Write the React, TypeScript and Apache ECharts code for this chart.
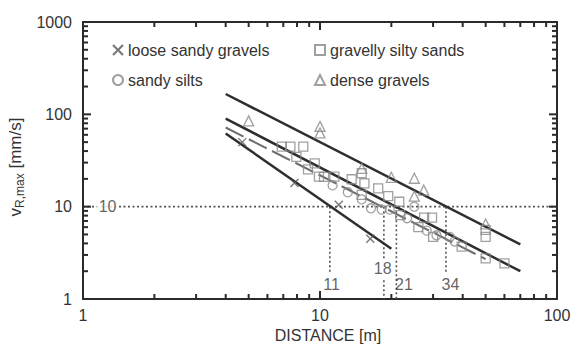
import React, { useEffect, useRef } from 'react';
import * as echarts from 'echarts';

// ---- data ----
const looseX = [4.7, 7.8, 12, 16.3];
const looseY = [50, 18, 10.5, 4.5];

const siltX = [11.3, 13.1, 15, 16.4, 18.2, 19.7, 23.3, 25, 28.2, 31, 35.3, 37];
const siltY = [17, 14.3, 12, 9.6, 9.3, 9.3, 7.5, 10, 5.5, 4.9, 4.7, 4.2];

const sandX = [6.9, 7.5, 7.95, 8.5, 8.9, 9.5, 9.9, 10.4, 11.5, 13.6, 15.4, 15, 15, 17.6, 19.4, 21.6, 21.8, 27.5, 29.7, 26, 30, 39.6, 50, 50, 50, 60];
const sandY = [44.6, 44.6, 34.7, 44.6, 25.4, 29.4, 21.1, 21, 21.1, 19.8, 17.9, 23, 13.4, 15.8, 13, 11.3, 8.1, 7.6, 7.6, 6.0, 4.7, 3.7, 5.6, 4.7, 2.75, 2.43];

const denseX = [5, 10, 10, 15, 20, 25, 27.4, 25, 50];
const denseY = [85, 74, 63, 26, 20.8, 20.3, 15.1, 13, 6.5];

// fitted lines: [start, end]
const fitDenseX = [4, 70];
const fitDenseY = [166, 3.9];
const fitSandX = [4, 70];
const fitSandY = [90, 2.0];
const fitSiltX = [4, 50];
const fitSiltY = [72, 2.7];
const fitLooseX = [4, 20];
const fitLooseY = [62, 3.5];

// reference (dotted) segments
const refSegX = [[1, 100], [11, 11], [18.6, 18.6], [18.6, 18.6], [21, 21], [34, 34]];
const refSegY = [[10, 10], [10, 1.9], [10, 2.6], [1.6, 1], [10, 1], [10, 1.85]];
const refLabelText = ['10', '11', '18', '21', '34'];
const refLabelX = [1.27, 11.2, 18.4, 22.6, 35.5];
const refLabelY = [10, 1.45, 2.15, 1.45, 1.45];

const xMajor = [1, 10, 100];
const yMajor = [1, 10, 100, 1000];
const xInnerMajor = [10];
const yInnerMajor = [10, 100];
const xMinor = [2, 3, 4, 5, 6, 7, 8, 9, 20, 30, 40, 50, 60, 70, 80, 90];
const yMinor = [2, 3, 4, 5, 6, 7, 8, 9, 20, 30, 40, 50, 60, 70, 80, 90, 200, 300, 400, 500, 600, 700, 800, 900];

const FONT = "'Liberation Sans', Arial, sans-serif";
const AX = '#2a2a2a';
const MK = '#888';

const zip = (xs: number[], ys: number[]) => xs.map((x, i) => [x, ys[i]]);

// layout
const W = 571;
const H = 345;
const G = { left: 83, right: 14, top: 22, bottom: 46 };
const X_DEC_PX = (W - G.left - G.right) / 2; // px per decade on x
const Y_DEC_PX = (H - G.top - G.bottom) / 3; // px per decade on y

export default function App() {
  const ref = useRef<HTMLDivElement>(null);
  useEffect(() => {
    if (!ref.current) return;
    const chart = echarts.init(ref.current, undefined, { renderer: 'svg' });

    const axis = (pos: string, min: number, max: number, label: any) => ({
      type: 'log',
      logBase: 10,
      min,
      max,
      position: pos,
      axisLine: { show: true, onZero: false, lineStyle: { color: AX, width: 2 } },
      axisTick: { show: false },
      splitLine: { show: false },
      axisLabel: label,
    });

    const noLabel = { show: false };
    const xLabel = {
      show: true,
      color: '#333',
      fontSize: 16,
      fontFamily: FONT,
      margin: 8,
      customValues: xMajor,
      formatter: (v: number) => String(Math.round(v)),
    };
    const yLabel = {
      show: true,
      color: '#333',
      fontSize: 16,
      fontFamily: FONT,
      margin: 11,
      customValues: yMajor,
      formatter: (v: number) => String(Math.round(v)),
    };

    const fitLine = (xs: number[], ys: number[], dashed = false, color = '#2e2e2e') => ({
      type: 'line',
      data: zip(xs, ys),
      symbol: 'none',
      silent: true,
      z: 3,
      lineStyle: { color, width: dashed ? 2 : 2.5, type: dashed ? [20, 6] : 'solid' },
    });

    const markerStyle = { color: 'transparent', borderColor: MK, borderWidth: 1.3 };

    const legendBase = {
      orient: 'vertical',
      top: 36,
      itemWidth: 10,
      itemHeight: 10,
      itemGap: 12,
      textStyle: { fontSize: 16, color: '#333', fontFamily: FONT, lineHeight: 18 },
    };

    // tick marks as short line segments, placed through the axes' log scales
    const tickSeg = (pts: number[][]) => ({
      type: 'line',
      data: pts,
      symbol: 'none',
      silent: true,
      clip: false,
      z: 6,
      lineStyle: { color: AX, width: 2, type: 'solid' },
    });
    const tickSeries: any[] = [];
    const addX = (vals: number[], len: number) => {
      const f = Math.pow(10, len / Y_DEC_PX);
      vals.forEach((v) => {
        tickSeries.push(tickSeg([[v, 1], [v, f]]));
        tickSeries.push(tickSeg([[v, 1000], [v, 1000 / f]]));
      });
    };
    const addY = (vals: number[], len: number) => {
      const f = Math.pow(10, len / X_DEC_PX);
      vals.forEach((v) => {
        tickSeries.push(tickSeg([[1, v], [f, v]]));
        tickSeries.push(tickSeg([[100, v], [100 / f, v]]));
      });
    };
    addX(xInnerMajor, 8);
    addX(xMinor, 5);
    addY(yInnerMajor, 8);
    addY(yMinor, 5);

    const option: any = {
      animation: false,
      backgroundColor: '#fff',
      grid: { ...G, containLabel: false, outerBoundsMode: 'none' },
      xAxis: [
        {
          ...axis('bottom', 1, 100, xLabel),
          name: 'DISTANCE [m]',
          nameLocation: 'middle',
          nameGap: 28,
          nameTextStyle: { color: '#333', fontSize: 16, fontFamily: FONT, padding: [0, 0, 0, 16] },
        },
        axis('top', 1, 100, noLabel),
      ],
      yAxis: [
        {
          ...axis('left', 1, 1000, yLabel),
          name: '{a|v}{b|R,max}{a| [mm/s]}',
          nameLocation: 'middle',
          nameRotate: 90,
          nameGap: 52,
          nameTextStyle: {
            padding: [0, 13, 0, 0],
            rich: {
              a: { fontSize: 17, color: '#333', fontFamily: FONT, lineHeight: 20, verticalAlign: 'middle' },
              b: { fontSize: 12, color: '#333', fontFamily: FONT, lineHeight: 20, verticalAlign: 'bottom' },
            },
          },
        },
        axis('right', 1, 1000, noLabel),
      ],
      legend: [
        { ...legendBase, left: 107, data: ['loose sandy gravels', 'sandy silts'] },
        { ...legendBase, left: 309, data: ['gravelly silty sands', 'dense gravels'] },
      ],
      series: [
        // dotted reference lines
        ...refSegX.map((xs, i) => ({
          type: 'line',
          data: zip(xs, refSegY[i]),
          symbol: 'none',
          silent: true,
          z: 1,
          lineStyle: { color: '#555', width: 1.6, type: [2, 2.5] },
        })),
        fitLine(fitDenseX, fitDenseY),
        fitLine(fitSandX, fitSandY),
        fitLine(fitSiltX, fitSiltY, true, '#6e6e6e'),
        fitLine(fitLooseX, fitLooseY),
        {
          name: 'loose sandy gravels',
          type: 'scatter',
          data: zip(looseX, looseY),
          symbol: 'path://M0 0L10 10M10 0L0 10',
          symbolSize: 8,
          z: 4,
          itemStyle: { color: 'transparent', borderColor: '#555', borderWidth: 1.4 },
        },
        {
          name: 'sandy silts',
          type: 'scatter',
          data: zip(siltX, siltY),
          symbol: 'circle',
          symbolSize: 9,
          z: 4,
          itemStyle: markerStyle,
        },
        {
          name: 'gravelly silty sands',
          type: 'scatter',
          data: zip(sandX, sandY),
          symbol: 'rect',
          symbolSize: 9,
          z: 4,
          itemStyle: markerStyle,
        },
        {
          name: 'dense gravels',
          type: 'scatter',
          data: zip(denseX, denseY),
          symbol: 'triangle',
          symbolSize: 10,
          z: 4,
          itemStyle: markerStyle,
        },
        // reference labels
        {
          type: 'scatter',
          silent: true,
          symbolSize: 0,
          z: 5,
          data: refLabelText.map((t, i) => ({
            value: [refLabelX[i], refLabelY[i]],
            label: {
              show: true,
              position: 'inside',
              formatter: t,
              color: '#3a3a3a',
              textBorderWidth: 0,
              textBorderColor: 'transparent',
              fontSize: 16,
              fontFamily: FONT,
              backgroundColor: i === 0 ? '#fff' : 'transparent',
              padding: i === 0 ? [0, 2] : 0,
            },
          })),
        },
        ...tickSeries,
      ],
    };

    chart.setOption(option);
    return () => chart.dispose();
  }, []);

  return (
    <div
      ref={ref}
      style={{ position: 'absolute', left: 0, top: 0, width: W, height: H, background: '#fff' }}
    />
  );
}
